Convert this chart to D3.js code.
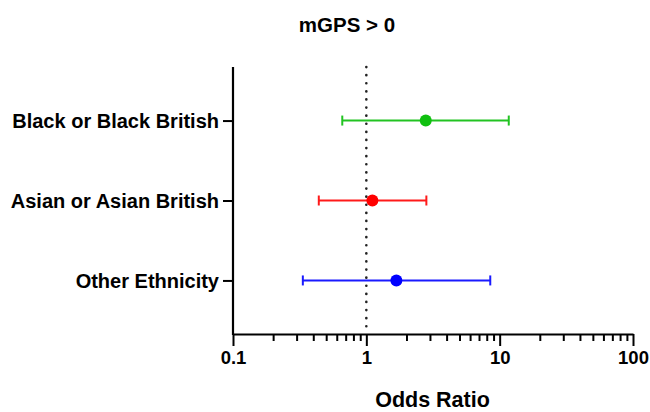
<!DOCTYPE html>
<html>
<head>
<meta charset="utf-8">
<script src="https://cdn.jsdelivr.net/npm/d3@7"></script>
<style>
  html, body { margin: 0; padding: 0; background: #fff; }
  svg { display: block; font-family: "Liberation Sans", Arial, sans-serif; }
</style>
</head>
<body>
<svg id="chart" width="650" height="412"></svg>
<script>
// Odds ratios with 95% confidence intervals by ethnic group
const categories = ["Black or Black British", "Asian or Asian British", "Other Ethnicity"];
const oddsRatio  = [2.79, 1.11, 1.68];
const ciLower    = [0.66, 0.44, 0.334];
const ciUpper    = [11.7, 2.82, 8.5];
const lineColors = ["#22c322", "#ff1a1a", "#1a1aff"];
const dotColors  = ["#10c010", "#ff0000", "#0000ff"];
const majorTicks = [0.1, 1, 10, 100];
const tickLabels = ["0.1", "1", "10", "100"];
const minorTicks = [0.2,0.3,0.4,0.5,0.6,0.7,0.8,0.9, 2,3,4,5,6,7,8,9, 20,30,40,50,60,70,80,90];

const svg = d3.select("#chart");

const x = d3.scaleLog().domain([0.1, 100]).range([233, 633]);
const y = d3.scalePoint().domain(categories).range([67, 334]).padding(0.67);
const yBottom = 334, yTop = 67;

// reference line at OR = 1
svg.append("line")
  .attr("x1", x(1)).attr("x2", x(1))
  .attr("y1", yTop).attr("y2", yBottom)
  .attr("stroke", "#222").attr("stroke-width", 2.6)
  .attr("stroke-linecap", "round")
  .attr("stroke-dasharray", "0.1,8");

// minor ticks
svg.append("g")
  .attr("transform", `translate(0,${yBottom})`)
  .call(d3.axisBottom(x).tickValues(minorTicks).tickSize(7).tickFormat(""))
  .call(g => g.select(".domain").remove())
  .call(g => g.selectAll(".tick line").attr("stroke", "#000").attr("stroke-width", 2));

// major ticks and labels
svg.append("g")
  .attr("transform", `translate(0,${yBottom})`)
  .call(d3.axisBottom(x).tickValues(majorTicks).tickSize(12).tickSizeOuter(0)
    .tickFormat((d, i) => tickLabels[i]))
  .call(g => g.select(".domain").attr("stroke", "#000").attr("stroke-width", 2.2))
  .call(g => g.selectAll(".tick line").attr("stroke", "#000").attr("stroke-width", 2))
  .call(g => g.selectAll(".tick text")
    .attr("fill", "#000").attr("font-size", 18.5).attr("font-weight", "bold")
    .attr("font-family", "Liberation Sans, Arial, sans-serif")
    .attr("y", 17));

// y axis
svg.append("g")
  .attr("transform", `translate(${x(0.1)},0)`)
  .call(d3.axisLeft(y).tickSize(10).tickSizeOuter(0).tickPadding(4))
  .call(g => g.select(".domain").attr("stroke", "#000").attr("stroke-width", 2.2)
    .attr("d", `M0,${yTop}V${yBottom + 1}`))
  .call(g => g.selectAll(".tick line").attr("stroke", "#000").attr("stroke-width", 2))
  .call(g => g.selectAll(".tick text")
    .attr("fill", "#000").attr("font-size", 20).attr("font-weight", "bold")
    .attr("font-family", "Liberation Sans, Arial, sans-serif")
    .attr("dy", "0.36em"));

// error bars and points
const rows = categories.map((c, i) => ({
  c, or: oddsRatio[i], lo: ciLower[i], hi: ciUpper[i], line: lineColors[i], dot: dotColors[i]
}));

const g = svg.append("g").selectAll("g").data(rows).join("g");
g.append("line")
  .attr("x1", d => x(d.lo)).attr("x2", d => x(d.hi))
  .attr("y1", d => y(d.c)).attr("y2", d => y(d.c))
  .attr("stroke", d => d.line).attr("stroke-width", 2);
g.append("line")
  .attr("x1", d => x(d.lo)).attr("x2", d => x(d.lo))
  .attr("y1", d => y(d.c) - 5).attr("y2", d => y(d.c) + 5)
  .attr("stroke", d => d.line).attr("stroke-width", 2);
g.append("line")
  .attr("x1", d => x(d.hi)).attr("x2", d => x(d.hi))
  .attr("y1", d => y(d.c) - 5).attr("y2", d => y(d.c) + 5)
  .attr("stroke", d => d.line).attr("stroke-width", 2);
g.append("circle")
  .attr("cx", d => x(d.or)).attr("cy", d => y(d.c))
  .attr("r", 6).attr("fill", d => d.dot);

// title
svg.append("text")
  .attr("x", 347).attr("y", 31.5)
  .attr("text-anchor", "middle")
  .attr("font-size", 20.5).attr("font-weight", "bold")
  .text("mGPS > 0");

// x axis title
svg.append("text")
  .attr("x", 432.5).attr("y", 407)
  .attr("text-anchor", "middle")
  .attr("font-size", 21.5).attr("font-weight", "bold")
  .text("Odds Ratio");
</script>
</body>
</html>
